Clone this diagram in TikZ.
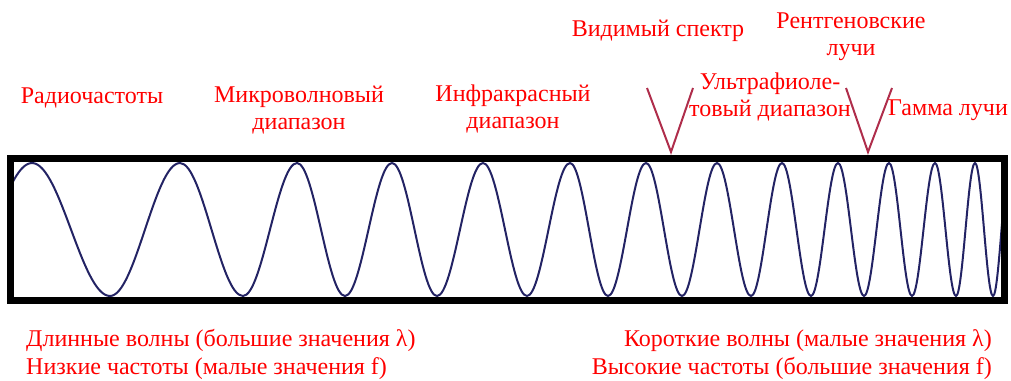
\documentclass[tikz,border=0pt]{standalone}
\usepackage{fontspec}
\setmainfont{Liberation Serif}
\newfontfamily\lblfont{Liberation Serif}
\definecolor{lbl}{RGB}{255,0,0}
\definecolor{wavec}{RGB}{35,35,100}
\definecolor{vmark}{RGB}{175,45,75}
\tikzset{
  lab/.style={text=lbl, font=\lblfont\fontsize{24}{27}\selectfont, inner sep=0pt, align=center},
  wave/.style={draw=wavec, line width=2pt},
  frame/.style={draw=black, line width=7pt},
  vline/.style={draw=vmark, line width=2pt}
}
\begin{document}
\begin{tikzpicture}[x=1pt,y=-1pt]
\useasboundingbox (0,0) rectangle (1011,380);
\begin{scope}
\clip (10.5,158.5) rectangle (1004.5,300);
\draw[wave] (-46,296) cos (-7,229.5) sin (32,163) cos (71,229.5) sin (110,296) cos (145,229.5) sin (180,163) cos (211.5,229.5) sin (243,296) cos (270,229.5) sin (297,163) cos (321,229.5) sin (345,296) cos (368.5,229.5) sin (392,163) cos (414.5,229.5) sin (437,296) cos (460,229.5) sin (483,163) cos (505,229.5) sin (527,296) cos (548.5,229.5) sin (570,163) cos (589,229.5) sin (608,296) cos (627,229.5) sin (646,163) cos (664,229.5) sin (682,296) cos (699.5,229.5) sin (717,163) cos (734,229.5) sin (751,296) cos (766.5,229.5) sin (782,163) cos (796.5,229.5) sin (811,296) cos (824.5,229.5) sin (838,163) cos (851,229.5) sin (864,296) cos (876.5,229.5) sin (889,163) cos (900.5,229.5) sin (912,296) cos (923.5,229.5) sin (935,163) cos (945.5,229.5) sin (956,296) cos (965.5,229.5) sin (975,163) cos (984,229.5) sin (993,296) cos (1001.5,229.5) sin (1010,163);
\end{scope}
\draw[frame] (10.5,158.5) rectangle (1004.5,300);
% V marks
\coordinate (v1a) at (647,88);
\coordinate (v1b) at (671,152);
\coordinate (v1c) at (693,88);
\coordinate (v2a) at (846,88);
\coordinate (v2b) at (868,152);
\coordinate (v2c) at (892,88);
\draw[vline] (v1a) -- (v1b) -- (v1c);
\draw[vline] (v2a) -- (v2b) -- (v2c);
% labels
\node[lab] (radio) at (92,98) {Радиочастоты};
\node[lab] (micro) at (299,110) {Микроволновый\\диапазон};
\node[lab] (infra) at (513,109) {Инфракрасный\\диапазон};
\node[lab] (vis) at (658,31) {Видимый спектр};
\node[lab] (xray) at (851,37) {Рентгеновские\\лучи};
\node[lab] (uv) at (770,97) {Ультрафиоле-\\товый диапазон};
\node[lab] (gamma) at (948,110) {Гамма лучи};
\node[lab, anchor=base west] (long) at (26,346) {Длинные волны (большие значения λ)};
\node[lab, anchor=base west] (low) at (26,374) {Низкие частоты (малые значения f)};
\node[lab, anchor=base east] (short) at (992,346) {Короткие волны (малые значения λ)};
\node[lab, anchor=base east] (high) at (992,374) {Высокие частоты (большие значения f)};
\end{tikzpicture}
\end{document}
